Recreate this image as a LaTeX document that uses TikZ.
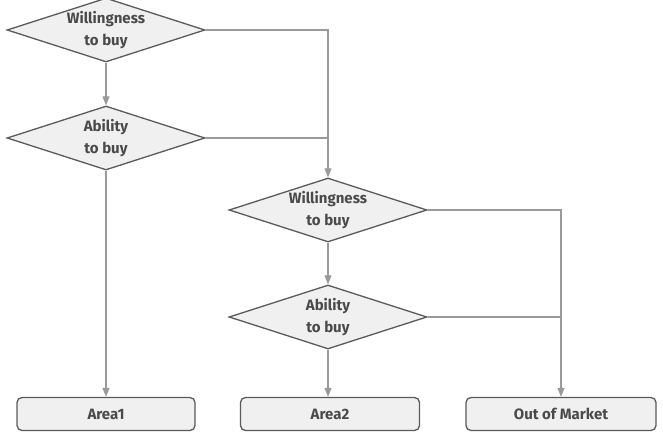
\documentclass[tikz,border=0pt]{standalone}
\usepackage{fontspec}
\setmainfont{Fira Sans}
\usepackage{tikz}
\usetikzlibrary{arrows.meta,shapes.geometric}
\definecolor{cline}{HTML}{9A9A9A}
\definecolor{cedge}{HTML}{5A5A5A}
\definecolor{cfill}{HTML}{F0F0F0}
\definecolor{ctext}{HTML}{4A4A4A}

\begin{document}
\begin{tikzpicture}[x=1pt,y=-1pt,every node/.style={font=\fontsize{15}{22}\selectfont\bfseries,text=ctext}]
  \tikzset{
    decision/.style={diamond,draw=cedge,line width=1.3pt,fill=cfill,aspect=3,inner sep=0pt,
      minimum width=198pt,minimum height=64pt,align=center},
    areabox/.style={rectangle,rounded corners=5pt,draw=cedge,line width=1.3pt,fill=cfill,
      minimum height=33pt},
    flow/.style={cline,line width=1.1pt},
    flowarrow/.style={flow,-{Triangle[length=9pt,width=7pt]}}
  }
  \useasboundingbox (0,0) rectangle (663,443);
  % decisions
  \node[decision] (will1) at (106,30) {Willingness\\to buy};
  \node[decision] (abil1) at (106,138) {Ability\\to buy};
  \node[decision] (will2) at (328,210) {Willingness\\to buy};
  \node[decision] (abil2) at (328,317) {Ability\\to buy};
  % outcomes
  \node[areabox,minimum width=178pt] (area1) at (106,414) {Area1};
  \node[areabox,minimum width=179pt] (area2) at (330,414) {Area2};
  \node[areabox,minimum width=190pt] (out) at (561,414) {Out of Market};
  % connectors
  \draw[flowarrow] (will1.south) -- (abil1.north);
  \draw[flowarrow] (will1.east) -| (will2.north);
  \draw[flow] (abil1.east) -- (abil1.east -| will2.north);
  \draw[flowarrow] (abil1.south) -- (abil1.south |- area1.north);
  \draw[flowarrow] (will2.south) -- (abil2.north);
  \draw[flowarrow] (abil2.south) -- (abil2.south |- area2.north);
  \draw[flowarrow] (will2.east) -| (will2.east -| out.north) -- (out.north);
  \draw[flow] (abil2.east) -- (abil2.east -| out.north);
\end{tikzpicture}
\end{document}
